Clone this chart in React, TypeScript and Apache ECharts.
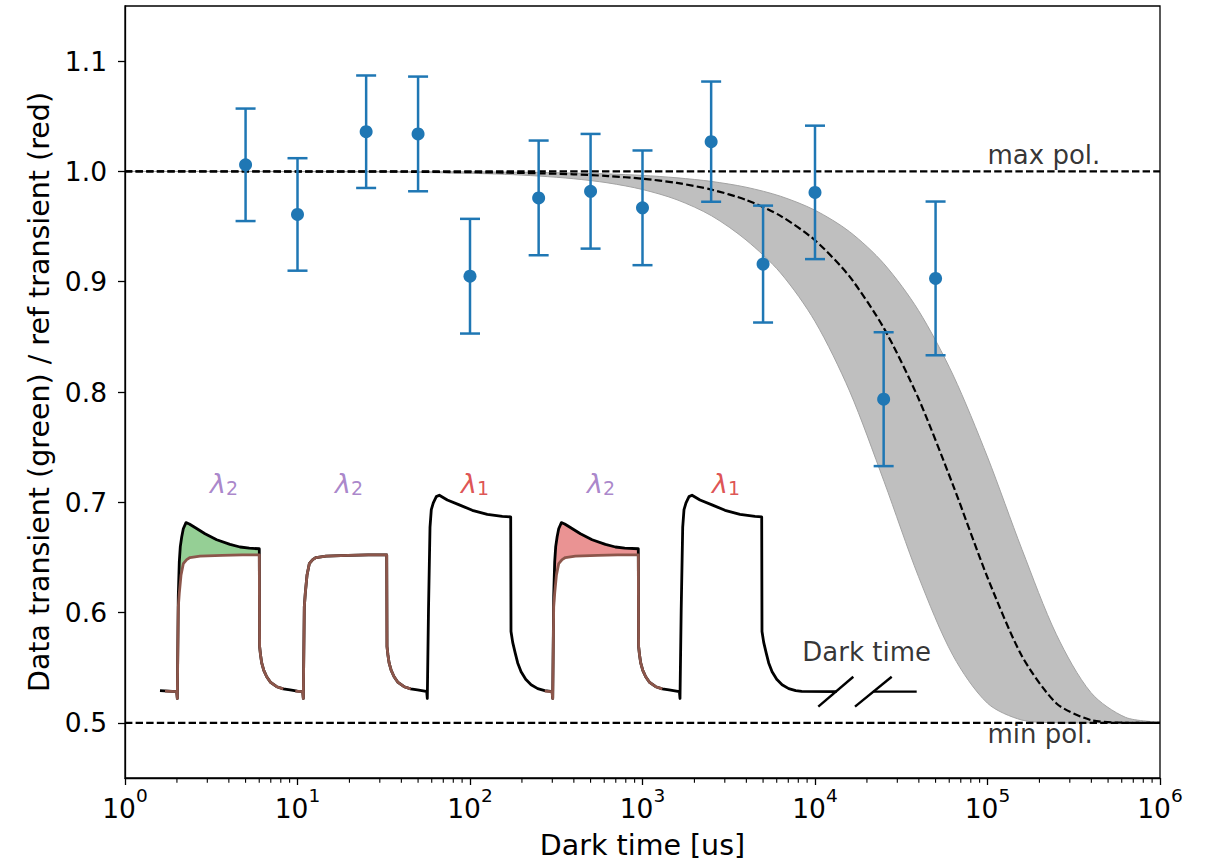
import React, { useEffect, useRef } from "react";
import * as echarts from "echarts";

const FONT = "DejaVu Sans";
const BLUE = "#1f77b4";

// ---- measured points (dark time in us, ratio, error) ----
const darkTime = [5, 10, 25, 50, 100, 250, 500, 1000, 2500, 5000, 10000, 25000, 50000];
const ratio = [1.006, 0.961, 1.036, 1.034, 0.905, 0.976, 0.982, 0.967, 1.027, 0.916, 0.981, 0.7935, 0.903];
const ratioErr = [0.051, 0.051, 0.051, 0.052, 0.052, 0.052, 0.052, 0.052, 0.0545, 0.053, 0.0605, 0.0607, 0.0697];

// ---- fit curve and its uncertainty band ----
const fitTime = [1, 10, 31.62, 100, 158.5, 251.2, 398.1, 631, 1000, 1585, 2512, 3981, 6310, 10000, 15849, 25119, 39811, 63096, 100000, 158489, 251189, 398107, 630957, 1000000];
const fitMid = [1.0, 0.9999, 0.9998, 0.9993, 0.9989, 0.9983, 0.9974, 0.9958, 0.9934, 0.9896, 0.9835, 0.9742, 0.9597, 0.9376, 0.9048, 0.8577, 0.7941, 0.7156, 0.6318, 0.5604, 0.5176, 0.5025, 0.5001, 0.5];
const fitUpper = [1.0, 1.0, 0.9999, 0.9996, 0.9994, 0.9991, 0.9985, 0.9977, 0.9964, 0.9942, 0.9909, 0.9857, 0.9775, 0.9648, 0.9454, 0.9162, 0.8739, 0.8155, 0.741, 0.6572, 0.5799, 0.5274, 0.505, 0.5003];
const fitLower = [1.0, 0.9998, 0.9995, 0.9983, 0.9974, 0.9958, 0.9934, 0.9896, 0.9836, 0.9743, 0.9598, 0.9379, 0.908, 0.864, 0.801, 0.719, 0.6326, 0.561, 0.5178, 0.5025, 0.5001, 0.5, 0.5, 0.5];

const polLevels = [1.0, 0.5];
const polLabels = ["max pol.", "min pol."];
const polLabelTime = 100000;

const yTicks = [0.5, 0.6, 0.7, 0.8, 0.9, 1.0, 1.1];
const xMinorTicks: number[] = [];
for (let k = 0; k < 6; k++) for (let m = 2; m <= 9; m++) xMinorTicks.push(m * Math.pow(10, k));

// ---- inset schematic (time in schematic units, signal normalized to plateau) ----
const pulseOn = [27.3, 153.3, 277.3, 402.7, 530];
const pulseOff = [109.3, 236.7, 360.7, 488.3, 611.7];
const pulseKind = ["probe", "plain", "pump", "probe", "pump"];
const lambdaIndex = ["2", "2", "1", "2", "1"];
const lambdaX = [74, 199, 325, 451, 576];
const lambdaY = 1.518;

const overshootRise = [[-0.6, 0.0], [0, -0.05], [0.4, -0.05], [1, 0.7], [2, 0.95], [3, 1.06], [4.4, 1.13], [6, 1.19], [8.7, 1.235], [12, 1.225], [17.7, 1.199], [27.7, 1.154], [39.4, 1.11], [52.7, 1.076], [62.7, 1.057], [72, 1.048]];
const overshootEnd = 1.044;
const brownRise = [[-0.6, 0.0], [0, -0.05], [0.4, -0.05], [1, 0.62], [2, 0.72], [3.7, 0.85], [6, 0.935], [9.4, 0.965], [12.7, 0.98], [22.7, 0.99], [45, 0.995], [65, 1.0]];
const brownEnd = 1.0;
const pumpRise = [[-0.6, 0.0], [0, -0.05], [0.4, -0.05], [1.2, 0.6], [2.7, 1.2], [4, 1.33], [6, 1.38], [9, 1.425], [12, 1.435], [20, 1.4], [32, 1.365], [45, 1.325], [60, 1.295], [75, 1.28]];
const pumpEnd = 1.277;
const probeFall = [[0.3, 0.33], [1.2, 0.27], [2.4, 0.21], [4.5, 0.155], [7.4, 0.109], [11, 0.07], [17.4, 0.036], [24, 0.02], [30.7, 0.012], [38, 0.004]];
const pumpFall = [[0.3, 0.44], [2, 0.36], [4.6, 0.28], [7, 0.21], [10.4, 0.145], [15, 0.09], [20.4, 0.05], [27, 0.022], [34, 0.008], [40, 0.002]];

const traceStart = [10, 0.007];
const traceEnd = [686.7, 0.0];
const afterBreak = [[723.3, 0.0], [766.7, 0.0]];
const breakSlash1 = [[668.3, -0.11], [703.3, 0.109]];
const breakSlash2 = [[705, -0.11], [741.7, 0.109]];
const darkTimeLabel = [716.7, 0.292];

const brownPulses = [0, 1, 3];
const fillPulses = [0, 3];
const fillColors = ["#95cf95", "#ea9393"];

function buildPulse(R: number, F: number, rise: number[][], end: number, fall: number[][], cut: number) {
  const pts: number[][] = rise.map(([d, v]) => [R + d, v]);
  pts.push([F, end]);
  fall.filter(([d]) => d <= cut).forEach(([d, v]) => pts.push([F + d, v]));
  return pts;
}

const blackTrace: number[][] = [traceStart];
pulseKind.forEach((k, i) => {
  if (k === "probe") blackTrace.push(...buildPulse(pulseOn[i], pulseOff[i], overshootRise, overshootEnd, probeFall, 38));
  else if (k === "plain") blackTrace.push(...buildPulse(pulseOn[i], pulseOff[i], brownRise, brownEnd, probeFall, 38));
  else blackTrace.push(...buildPulse(pulseOn[i], pulseOff[i], pumpRise, pumpEnd, pumpFall, 40));
});
blackTrace.push(traceEnd);

const brownTraces = brownPulses.map((i) => {
  const startX = i === 0 ? 15 : pulseOn[i] - 8;
  return [[startX, 0.004], ...buildPulse(pulseOn[i], pulseOff[i], brownRise, brownEnd, probeFall, 27)];
});

const fillPolys = fillPulses.map((i) => {
  const R = pulseOn[i], F = pulseOff[i];
  const upper = overshootRise.filter(([d]) => d >= 0.4).map(([d, v]) => [R + d, v]).concat([[F, overshootEnd]]);
  const lower = brownRise.filter(([d]) => d >= 0.4).map(([d, v]) => [R + d, v]).concat([[F, brownEnd]]);
  return upper.concat(lower.reverse());
});

const dashed = [7.4, 3.2];

function buildOption(): any {
  const inset = { xAxisIndex: 1, yAxisIndex: 1 };
  const lineBase = { type: "line", showSymbol: false, symbol: "none", silent: true, animation: false };
  return {
    animation: false,
    backgroundColor: "#ffffff",
    textStyle: { fontFamily: FONT },
    grid: [
      { left: 125, top: 6, width: 1035, height: 772, show: true, borderColor: "#000", borderWidth: 1.3, backgroundColor: "transparent", z: 10, outerBoundsMode: "none", containLabel: false },
      { left: 150, top: 459, width: 780, height: 260, show: false, outerBoundsMode: "none", containLabel: false },
    ],
    xAxis: [
      {
        type: "log", logBase: 10, gridIndex: 0, min: 1, max: 1e6, position: "bottom", z: 10,
        axisLine: { show: true, lineStyle: { color: "#000", width: 1.3 } },
        axisTick: { show: true, length: 7, lineStyle: { color: "#000", width: 1.3 } },
        minorTick: { show: false },
        splitLine: { show: false },
        axisLabel: {
          margin: 14,
          color: "#000",
          formatter: (v: number) => `{b|10}{s|${Math.round(Math.log10(v))}}`,
          rich: {
            b: { fontSize: 26.5, fontFamily: FONT, color: "#000", lineHeight: 32 },
            s: { fontSize: 18.5, fontFamily: FONT, color: "#000", verticalAlign: "top", height: 7, lineHeight: 7 },
          },
        },
        name: "Dark time [us]", nameLocation: "middle", nameGap: 52, nameMoveOverlap: false,
        nameTextStyle: { fontSize: 28.5, color: "#000", fontFamily: FONT, lineHeight: 30 },
      },
      { type: "value", gridIndex: 1, min: 0, max: 780, show: false },
    ],
    yAxis: [
      {
        type: "value", gridIndex: 0, min: 0.45, max: 1.15, z: 10,
        axisLine: { show: true, lineStyle: { color: "#000", width: 1.3 } },
        axisTick: { show: true, length: 7, lineStyle: { color: "#000", width: 1.3 }, customValues: yTicks },
        splitLine: { show: false },
        axisLabel: {
          customValues: yTicks, margin: 18, color: "#000", fontSize: 26.5, fontFamily: FONT,
          padding: [5, 0, 0, 0],
          formatter: (v: number) => v.toFixed(1),
        },
        name: "Data transient (green) / ref transient (red)", nameLocation: "middle", nameGap: 71, nameMoveOverlap: false,
        nameTextStyle: { fontSize: 28.5, color: "#000", fontFamily: FONT, lineHeight: 30 },
      },
      { type: "value", gridIndex: 1, min: -0.2, max: 1.7, show: false },
    ],
    series: [
      // uncertainty band
      {
        type: "custom", z: 1, silent: true, clip: false,
        data: [[1000, 1]],
        renderItem: (params: any, api: any) => {
          const up = fitTime.map((t, i) => api.coord([t, fitUpper[i]]));
          const lo = fitTime.map((t, i) => api.coord([t, fitLower[i]])).slice(1, -1).reverse();
          return {
            type: "polygon",
            shape: { points: up.concat(lo), smooth: 0.3 },
            style: { fill: "#bfbfbf", stroke: "#a3a3a3", lineWidth: 1 },
          };
        },
      },
      // fit
      {
        ...lineBase, name: "fit", z: 3, smooth: 0.25,
        lineStyle: { color: "#000", width: 2.2, type: dashed },
        data: fitTime.map((t, i) => [t, fitMid[i]]),
      },
      // max / min polarization lines
      ...polLevels.map((lv) => ({
        ...lineBase, z: 3,
        lineStyle: { color: "#000", width: 2.2, type: dashed },
        data: [[1, lv], [1e6, lv]],
      })),
      {
        type: "scatter", silent: true, z: 4, symbolSize: 0,
        data: polLevels.map((lv, i) => ({
          value: [polLabelTime, lv],
          label: {
            show: true, position: "right", distance: 0, formatter: polLabels[i],
            offset: [0, i === 0 ? -16 : 11.6],
            fontSize: 26, fontFamily: FONT, color: "#000",
          },
        })),
      },
      // inset fills
      {
        type: "custom", ...inset, z: 3, silent: true, clip: false,
        data: fillPulses.map((i) => [pulseOn[i], 1]),
        renderItem: (params: any, api: any) => ({
          type: "polygon",
          shape: { points: fillPolys[params.dataIndex].map((p) => api.coord(p)) },
          style: { fill: fillColors[params.dataIndex], stroke: "none" },
        }),
      },
      // inset black trace
      {
        ...lineBase, ...inset, z: 3,
        lineStyle: { color: "#000", width: 2.8, join: "round" },
        data: blackTrace,
      },
      ...brownTraces.map((tr) => ({
        ...lineBase, ...inset, z: 3,
        lineStyle: { color: "#8c564b", width: 2.8, join: "round" },
        data: tr,
      })),
      ...[afterBreak, breakSlash1, breakSlash2].map((tr) => ({
        ...lineBase, ...inset, z: 3,
        lineStyle: { color: "#000", width: 2.4 },
        data: tr,
      })),
      // inset labels
      {
        type: "scatter", ...inset, silent: true, z: 4, symbolSize: 0,
        data: lambdaX.map((x, i) => {
          const c = lambdaIndex[i] === "1" ? "#d62728" : "#9467bd";
          return {
            value: [x, lambdaY],
            label: {
              show: true, position: "inside",
              formatter: `{l|λ}{s|${lambdaIndex[i]}}`,
              rich: {
                l: { fontSize: 27, fontFamily: FONT, fontStyle: "italic", color: c, lineHeight: 30 },
                s: { fontSize: 19, fontFamily: FONT, color: c, verticalAlign: "bottom", height: 21 },
              },
            },
          };
        }),
      },
      {
        type: "scatter", ...inset, silent: true, z: 4, symbolSize: 0,
        data: [{
          value: darkTimeLabel,
          label: { show: true, position: "inside", formatter: "Dark time", fontSize: 26, fontFamily: FONT, color: "#000" },
        }],
      },
      // error bars
      {
        type: "custom", z: 5, silent: true, clip: false,
        encode: { x: 0, y: [1, 2] },
        data: darkTime.map((t, i) => [t, ratio[i] - ratioErr[i], ratio[i] + ratioErr[i]]),
        renderItem: (params: any, api: any) => {
          const x = api.value(0);
          const top = api.coord([x, api.value(2)]);
          const bot = api.coord([x, api.value(1)]);
          const hw = 10;
          const style = { stroke: BLUE, lineWidth: 2.5, fill: "none" };
          return {
            type: "group",
            children: [
              { type: "line", shape: { x1: top[0], y1: top[1], x2: bot[0], y2: bot[1] }, style },
              { type: "line", shape: { x1: top[0] - hw, y1: top[1], x2: top[0] + hw, y2: top[1] }, style },
              { type: "line", shape: { x1: bot[0] - hw, y1: bot[1], x2: bot[0] + hw, y2: bot[1] }, style },
            ],
          };
        },
      },
      {
        type: "scatter", z: 6, silent: true, symbol: "circle", symbolSize: 13,
        itemStyle: { color: BLUE, opacity: 1 },
        data: darkTime.map((t, i) => [t, ratio[i]]),
      },
      // minor log ticks on the x axis
      {
        type: "scatter", z: 10, silent: true, clip: false,
        symbol: "rect", symbolSize: [1.1, 4.5], symbolOffset: [0, 2.6],
        itemStyle: { color: "#000", opacity: 1 },
        data: xMinorTicks.map((t) => [t, 0.45]),
      },
    ],
  };
}

export default function App() {
  const ref = useRef<HTMLDivElement>(null);
  useEffect(() => {
    document.body.style.margin = "0";
    const chart = echarts.init(ref.current!, null, { renderer: "svg" });
    chart.setOption(buildOption());
    return () => chart.dispose();
  }, []);
  return (
    <div
      ref={ref}
      style={{ position: "fixed", left: 0, top: 0, width: 1212, height: 862, background: "#fff" }}
    />
  );
}
